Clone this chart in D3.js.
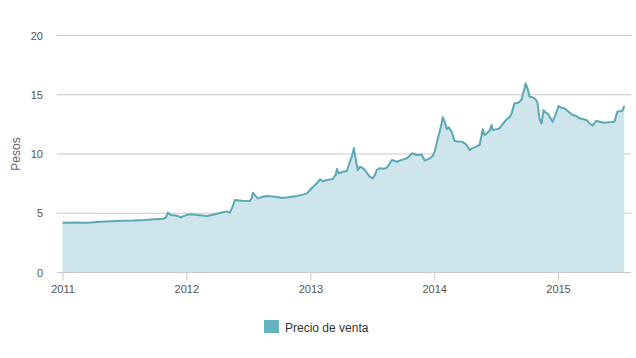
<!DOCTYPE html>
<html><head><meta charset="utf-8">
<script src="https://cdn.jsdelivr.net/npm/d3@7"></script>
<style>
html,body{margin:0;padding:0;background:#fff;}
svg{display:block;font-family:"Liberation Sans",Arial,sans-serif;}
</style></head>
<body><svg id="c" width="636" height="358"></svg>
<script>
// Dates as decimal years
const dates = [2011.000,2011.101,2011.206,2011.302,2011.399,2011.480,2011.569,2011.665,2011.746,2011.810,2011.835,2011.851,2011.875,2011.915,2011.956,2011.988,
2012.028,2012.093,2012.165,2012.206,2012.246,2012.294,2012.327,2012.351,2012.375,2012.391,2012.448,2012.512,2012.528,2012.536,2012.560,2012.577,2012.609,2012.649,2012.714,2012.778,2012.835,2012.891,2012.931,2012.972,
2013.012,2013.052,2013.077,2013.101,2013.133,2013.181,2013.206,2013.214,2013.230,2013.262,2013.294,2013.319,2013.335,2013.351,2013.367,2013.383,2013.399,2013.423,2013.440,2013.464,2013.480,2013.504,2013.520,2013.536,2013.560,2013.593,2013.617,2013.641,2013.657,2013.698,2013.738,2013.778,2013.802,2013.819,2013.859,2013.899,2013.923,2013.948,2013.964,2013.988,
2014.004,2014.020,2014.044,2014.060,2014.069,2014.085,2014.101,2014.117,2014.141,2014.165,2014.190,2014.222,2014.246,2014.262,2014.286,2014.310,2014.327,2014.351,2014.367,2014.383,2014.391,2014.407,2014.431,2014.448,2014.464,2014.472,2014.504,2014.528,2014.552,2014.569,2014.585,2014.609,2014.625,2014.641,2014.649,2014.673,2014.690,2014.706,2014.714,2014.730,2014.738,2014.754,2014.770,2014.794,2014.810,2014.827,2014.835,2014.843,2014.851,2014.859,2014.867,2014.883,2014.899,2014.915,2014.940,2014.956,2014.980,
2015.004,2015.028,2015.052,2015.069,2015.093,2015.117,2015.149,2015.173,2015.198,2015.230,2015.254,2015.278,2015.294,2015.310,2015.343,2015.375,2015.407,2015.431,2015.456,2015.472,2015.480,2015.496,2015.520,2015.536];
const precio = [4.20,4.22,4.20,4.29,4.33,4.37,4.38,4.43,4.50,4.54,4.62,5.05,4.85,4.82,4.66,4.80,
4.91,4.85,4.77,4.85,4.96,5.08,5.16,5.05,5.60,6.12,6.05,6.03,6.30,6.73,6.45,6.26,6.38,6.46,6.40,6.29,6.38,6.46,6.55,6.68,
7.13,7.53,7.86,7.70,7.80,7.89,8.30,8.73,8.37,8.50,8.57,9.35,9.80,10.48,9.49,8.65,8.93,8.80,8.65,8.30,8.09,7.95,8.20,8.65,8.79,8.75,8.85,9.20,9.49,9.35,9.50,9.64,9.85,10.06,9.92,9.95,9.45,9.55,9.64,9.83,
10.20,10.90,11.90,12.60,13.10,12.73,12.10,12.25,11.88,11.10,11.05,11.04,10.90,10.76,10.34,10.50,10.56,10.70,10.76,11.60,12.08,11.60,11.80,12.00,12.45,12.03,12.10,12.17,12.50,12.73,12.93,13.10,13.43,14.00,14.28,14.30,14.41,14.60,14.98,15.50,15.96,15.54,14.83,14.80,14.70,14.50,14.28,13.60,13.00,12.75,12.59,13.71,13.50,13.43,13.00,12.73,13.30,
14.05,13.90,13.85,13.71,13.50,13.29,13.20,13.01,12.95,12.87,12.60,12.40,12.60,12.81,12.70,12.64,12.68,12.70,12.73,13.30,13.57,13.60,13.65,14.05];
const yTicks = [0,5,10,15,20];
const xTickYears = [2011,2012,2013,2014,2015];
const seriesName = "Precio de venta";
const yTitle = "Pesos";

function toDate(d){
  const y = Math.floor(d), f = d - y;
  const s = new Date(y,0,1), e = new Date(y+1,0,1);
  return new Date(s.getTime() + f*(e-s));
}
const data = dates.map((d,i)=>({date:toDate(d), v:precio[i]}));

const svg = d3.select("#c");
const x = d3.scaleTime().domain([new Date(2011,0,1), new Date(2015,0,1)]).range([62.5, 558]);
const y = d3.scaleLinear().domain([0,20]).range([272.5, 35.5]);

// grid
svg.append("g").selectAll("line").data(yTicks.slice(1)).join("line")
  .attr("x1",57).attr("x2",631).attr("y1",d=>y(d)).attr("y2",d=>y(d))
  .attr("stroke","#c8c8c8").attr("stroke-width",1);

// area + line
const area = d3.area().x(d=>x(d.date)).y0(y(0)).y1(d=>y(d.v));
const line = d3.line().x(d=>x(d.date)).y(d=>y(d.v));
svg.append("path").datum(data).attr("d",area).attr("fill","#cde5eb");
svg.append("path").datum(data).attr("d",line).attr("fill","none")
  .attr("stroke","#5ca8b7").attr("stroke-width",2).attr("stroke-linejoin","round");

// x axis
const xa = svg.append("g").attr("transform",`translate(0,${y(0)})`)
  .call(d3.axisBottom(x).tickValues(xTickYears.map(yr=>new Date(yr,0,1))).tickFormat(d3.timeFormat("%Y")).tickSizeOuter(0).tickSize(8));
xa.select(".domain").attr("d","M57,0H631").attr("stroke","#c8c8c8");
xa.selectAll(".tick line").attr("stroke","#c8c8c8");
xa.selectAll(".tick text").attr("fill","#555").attr("font-size",11).attr("dy","0.9em")
  .attr("font-family","Liberation Sans, Arial, sans-serif");

// y axis labels
const ya = svg.append("g").attr("transform","translate(43,0)")
  .call(d3.axisLeft(y).tickValues(yTicks).tickSize(0).tickPadding(0));
ya.select(".domain").remove();
ya.selectAll(".tick text").attr("fill","#555").attr("font-size",11)
  .attr("font-family","Liberation Sans, Arial, sans-serif");

svg.append("text").attr("transform","translate(20,154) rotate(-90)")
  .attr("text-anchor","middle").attr("fill","#666").attr("font-size",12).text(yTitle);

// legend
const lg = svg.append("g");
lg.append("rect").attr("x",264).attr("y",320).attr("width",15).attr("height",13).attr("fill","#64b2c2");
lg.append("text").attr("x",285).attr("y",331.5).attr("fill","#333").attr("font-size",12).text(seriesName);
</script></body></html>
